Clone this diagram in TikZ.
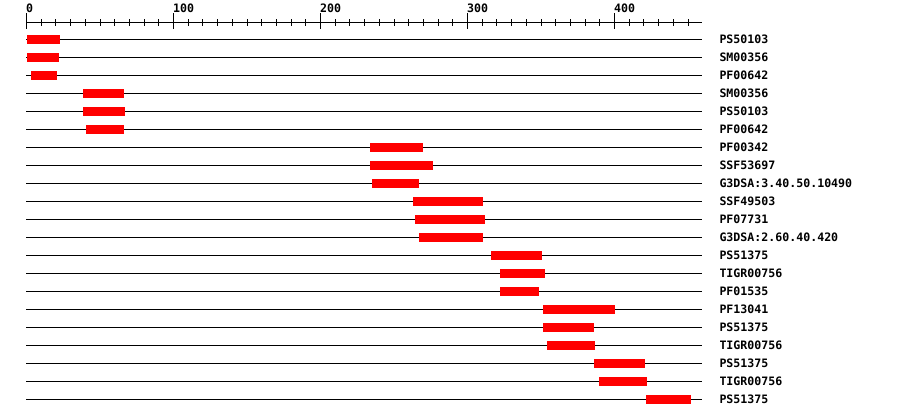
\documentclass[tikz,border=0pt]{standalone}
\usepackage{fontspec}
\newfontfamily\labfont{DejaVu Sans Mono}[BoldFont={* Bold}]
\tikzset{
  rowline/.style={line width=1.2pt,black},
  tick/.style={line width=1.2pt,black},
  bar/.style={fill={rgb,255:red,255;green,0;blue,0},draw=none},
  lab/.style={anchor=base west,inner sep=0pt,font=\labfont\bfseries\fontsize{11.6}{12}\selectfont},
  axlab/.style={anchor=base west,inner sep=0pt,font=\labfont\bfseries\fontsize{11.6}{12}\selectfont}
}
\begin{document}
\begin{tikzpicture}[x=1pt,y=-1pt]
\useasboundingbox[fill=white] (0,0) rectangle (900,418);
% axis
\coordinate (axs) at (26,22.5);
\coordinate (axe) at (701.5,22.5);
\draw[tick] (axs) -- (axe);
\foreach \v in {0,100,200,300,400}{
  \pgfmathsetmacro{\tx}{round(26+1.47*\v)+0.5}
  \draw[tick] (\tx,13) -- (\tx,29);
  \node[axlab] (ax\v) at (\tx-0.5,12) {\v};
}
\foreach \v in {10,20,...,450}{
  \pgfmathsetmacro{\tx}{round(26+1.47*\v)+0.5}
  \draw[tick] (\tx,19) -- (\tx,25.5);
}
% rows: index/label/start/end
\foreach \i/\lbl/\a/\b in {
 0/PS50103/27/60,
 1/SM00356/27/59,
 2/PF00642/31/57,
 3/SM00356/83/124,
 4/PS50103/83/125,
 5/PF00642/86/124,
 6/PF00342/370/423,
 7/SSF53697/370/433,
 8/G3DSA:3.40.50.10490/372/419,
 9/SSF49503/413/483,
 10/PF07731/415/485,
 11/G3DSA:2.60.40.420/419/483,
 12/PS51375/491/542,
 13/TIGR00756/500/545,
 14/PF01535/500/539,
 15/PF13041/543/615,
 16/PS51375/543/594,
 17/TIGR00756/547/595,
 18/PS51375/594/645,
 19/TIGR00756/599/647,
 20/PS51375/646/691}{
  \pgfmathsetmacro{\yy}{39.5+18*\i}
  \coordinate (ls\i) at (26,\yy);
  \coordinate (le\i) at (701.5,\yy);
  \draw[rowline] (ls\i) -- (le\i);
  \fill[bar] (\a,\yy-4.5) rectangle (\b,\yy+4.5);
  \node[lab] (lab\i) at (719.3,\yy+3.5) {\lbl};
}
\end{tikzpicture}
\end{document}
